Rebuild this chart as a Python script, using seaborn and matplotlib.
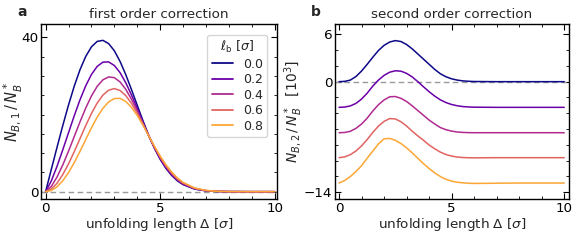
import numpy as np
import pandas as pd
import matplotlib
matplotlib.use("Agg")
import matplotlib.pyplot as plt
from matplotlib.ticker import MultipleLocator
import seaborn as sns

# unfolding length grid [sigma]
delta = [0, 0.25, 0.5, 0.75, 1, 1.25, 1.5, 1.75, 2, 2.25, 2.5, 2.75, 3, 3.25, 3.5,
         3.75, 4, 4.25, 4.5, 4.75, 5, 5.25, 5.5, 5.75, 6, 6.5, 7, 7.5, 8, 9, 10]
lb_values = ["0.0", "0.2", "0.4", "0.6", "0.8"]

# first order correction N_B,1 / N_B*
first_00 = [0, 5.80, 11.55, 17.16, 22.48, 27.37, 31.62, 35.07, 37.57, 38.98, 39.26, 38.42, 36.56, 33.79, 30.34,
            26.46, 22.41, 18.40, 14.63, 11.28, 8.40, 6.05, 4.22, 2.82, 1.83, 0.68, 0.21, 0.06, 0.01, 0, 0]
first_02 = [0, 2.79, 6.61, 10.87, 15.30, 19.69, 23.82, 27.46, 30.40, 32.49, 33.60, 33.67, 32.74, 30.88, 28.25,
            25.06, 21.57, 17.98, 14.50, 11.33, 8.55, 6.23, 4.39, 2.97, 1.95, 0.74, 0.24, 0.07, 0.02, 0, 0]
first_04 = [0, 1.35, 3.82, 6.94, 10.51, 14.30, 18.10, 21.68, 24.82, 27.32, 29.01, 29.77, 29.58, 28.47, 26.53,
            23.94, 20.94, 17.72, 14.50, 11.48, 8.78, 6.48, 4.62, 3.16, 2.09, 0.81, 0.27, 0.07, 0.02, 0, 0]
first_06 = [0, 0.66, 2.20, 4.44, 7.22, 10.38, 13.76, 17.13, 20.28, 22.98, 25.05, 26.33, 26.75, 26.25, 24.92,
            22.89, 20.35, 17.48, 14.50, 11.64, 9.02, 6.73, 4.86, 3.36, 2.25, 0.89, 0.30, 0.09, 0.02, 0, 0]
first_08 = [0, 0.32, 1.27, 2.83, 4.95, 7.54, 10.45, 13.52, 16.55, 19.32, 21.62, 23.28, 24.16, 24.20, 23.40,
            21.86, 19.75, 17.23, 14.50, 11.80, 9.26, 7.00, 5.11, 3.57, 2.41, 0.97, 0.33, 0.10, 0.02, 0, 0]

# second order correction N_B,2 / N_B* [10^3]
second_00 = [0, 0.04, 0.20, 0.65, 1.35, 2.20, 3.10, 3.95, 4.60, 5.02, 5.20, 5.08, 4.70, 4.15, 3.50,
             2.85, 2.20, 1.55, 1.00, 0.62, 0.36, 0.20, 0.10, 0.05, 0.02, 0.01, 0, 0, 0, 0, 0]
second_02 = [-3.25, -3.21, -3.07, -2.75, -2.20, -1.45, -0.55, 0.20, 0.80, 1.20, 1.38, 1.33, 1.05, 0.60, 0.00,
             -0.65, -1.27, -1.83, -2.30, -2.65, -2.89, -3.05, -3.15, -3.20, -3.23, -3.24, -3.25, -3.25, -3.25, -3.25, -3.25]
second_04 = [-6.46, -6.43, -6.28, -5.91, -5.36, -4.61, -3.71, -2.91, -2.31, -1.91, -1.88, -2.11, -2.51, -3.06, -3.66,
             -4.26, -4.86, -5.36, -5.81, -6.08, -6.26, -6.37, -6.42, -6.45, -6.46, -6.46, -6.46, -6.46, -6.46, -6.46, -6.46]
second_06 = [-9.62, -9.52, -9.24, -8.77, -8.12, -7.32, -6.42, -5.62, -5.02, -4.67, -4.72, -5.07, -5.62, -6.27, -6.87,
             -7.42, -8.02, -8.50, -8.92, -9.22, -9.42, -9.54, -9.60, -9.63, -9.64, -9.63, -9.62, -9.62, -9.62, -9.62, -9.62]
second_08 = [-12.83, -12.51, -12.01, -11.38, -10.63, -9.68, -8.78, -7.88, -7.23, -7.18, -7.43, -7.83, -8.38, -9.01, -9.70,
             -10.38, -11.00, -11.55, -12.01, -12.36, -12.59, -12.73, -12.80, -12.86, -12.88, -12.87, -12.85, -12.84, -12.83, -12.83, -12.83]


def to_long(series):
    frames = []
    for lb, vals in zip(lb_values, series):
        frames.append(pd.DataFrame({"delta": delta, "value": vals, "lb": lb}))
    return pd.concat(frames, ignore_index=True)


df1 = to_long([first_00, first_02, first_04, first_06, first_08])
df2 = to_long([second_00, second_02, second_04, second_06, second_08])

sns.set_style("ticks")
plt.rcParams.update({
    "axes.edgecolor": "black",
    "axes.linewidth": 1.0,
    "xtick.color": "black",
    "ytick.color": "black",
    "xtick.direction": "in",
    "ytick.direction": "in",
    "xtick.top": True,
    "ytick.right": True,
    "xtick.major.size": 4,
    "ytick.major.size": 4,
    "xtick.minor.size": 2,
    "ytick.minor.size": 2,
    "xtick.minor.visible": True,
    "ytick.minor.visible": True,
    "mathtext.fontset": "dejavusans",
})

cmap = plt.get_cmap("plasma")
palette = {lb: cmap(float(lb)) for lb in lb_values}

fig = plt.figure(figsize=(5.81, 2.42), dpi=100)
ax1 = fig.add_axes([0.0706, 0.1777, 0.4062, 0.7231])
ax2 = fig.add_axes([0.5766, 0.1777, 0.4019, 0.7231])

for ax in (ax1, ax2):
    ax.axhline(0, color="#999999", lw=1.0, ls=(0, (4, 2.5)), zorder=1)

sns.lineplot(data=df1, x="delta", y="value", hue="lb", palette=palette, estimator=None,
             sort=False, lw=1.1, ax=ax1, zorder=3)
sns.lineplot(data=df2, x="delta", y="value", hue="lb", palette=palette, estimator=None,
             sort=False, lw=1.1, ax=ax2, legend=False, zorder=3)

ax1.set_xlim(-0.2, 10.1)
ax1.set_ylim(-1.9, 43.5)
ax1.set_yticks([0, 40])
ax1.yaxis.set_minor_locator(MultipleLocator(5))
ax1.set_ylabel(r"$N_{B,1}\,/\,N_B^*$", fontsize=10.5, labelpad=-3)
ax1.set_title("first order correction", fontsize=9.7, pad=4)

ax2.set_xlim(-0.18, 10.19)
ax2.set_ylim(-14.85, 7.3)
ax2.set_yticks([6, 0, -14])
ax2.yaxis.set_minor_locator(MultipleLocator(2))
ax2.set_ylabel(r"$N_{B,2}\,/\,N_B^*$  $[10^3]$", fontsize=10, labelpad=-1)
ax2.set_title("second order correction", fontsize=9.7, pad=4)

for ax in (ax1, ax2):
    ax.set_xticks([0, 5, 10])
    ax.xaxis.set_minor_locator(MultipleLocator(1))
    ax.set_xlabel(r"unfolding length $\Delta$ [$\sigma$]", fontsize=9.7, labelpad=1)
    ax.tick_params(labelsize=9.7, pad=2)

leg = ax1.legend(title=r"$\ell_\mathrm{b}$ [$\sigma$]", loc="upper right", fontsize=9,
                 title_fontsize=9, handlelength=1.7, frameon=True, fancybox=True,
                 borderpad=0.35, labelspacing=0.2, handletextpad=0.8,
                 bbox_to_anchor=(0.985, 0.975))
leg.get_frame().set_edgecolor("#cccccc")
for line in leg.get_lines():
    line.set_linewidth(1.3)

fig.text(0.030, 0.935, "a", fontsize=10, fontweight="bold")
fig.text(0.535, 0.935, "b", fontsize=10, fontweight="bold")

fig.savefig("out.png", dpi=100)
